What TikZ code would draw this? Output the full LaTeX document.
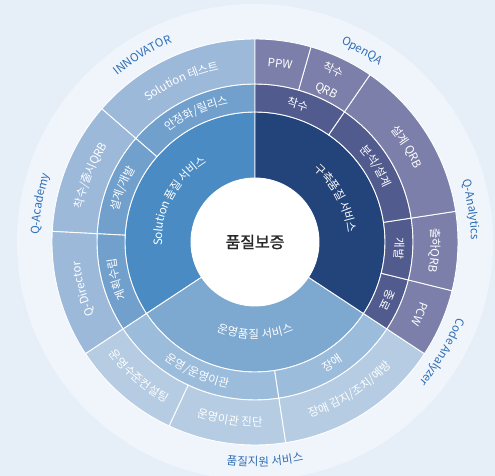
\documentclass[tikz,border=0pt]{standalone}
\usepackage{fontspec}
\setmainfont{Noto Sans CJK KR}
\newfontfamily\corefont[FakeBold=1.2]{Noto Sans CJK KR}
\usetikzlibrary{decorations.text}
\definecolor{bgc}{HTML}{E6EFF8}
\definecolor{bandc}{HTML}{F0F5FC}
\definecolor{solA}{HTML}{4A8BC3}
\definecolor{solB}{HTML}{72A0CD}
\definecolor{solC}{HTML}{9DB9DA}
\definecolor{conA}{HTML}{23447B}
\definecolor{conB}{HTML}{525B8D}
\definecolor{conC}{HTML}{7C7FA9}
\definecolor{opsA}{HTML}{7DA8CF}
\definecolor{opsB}{HTML}{9CBCDC}
\definecolor{opsC}{HTML}{B6CCE3}
\definecolor{outblue}{HTML}{2E6DB4}
\newcommand{\labw}{\fontsize{11.5}{13}\selectfont\color{white}}
\newcommand{\labo}{\fontsize{11.5}{13}\selectfont\color{outblue}}
\newcommand{\sunseg}[5]{%
  \fill[#5, draw=white, line width=0.9pt] ({#3}:#1pt) arc[start angle={#3}, end angle={#4}, radius=#1pt]
    -- ({#4}:#2pt) arc[start angle={#4}, end angle={#3}, radius=#2pt] -- cycle;}
\newcommand{\cwlab}[5]{%
  \path[decorate,decoration={text along path,text align=center,raise=-4pt,text={|#4|#5}}]
    ({#2+#3}:#1pt) arc[start angle={#2+#3}, end angle={#2-#3}, radius=#1pt];}
\newcommand{\ccwlab}[5]{%
  \path[decorate,decoration={text along path,text align=center,raise=-4pt,text={|#4|#5}}]
    ({#2-#3}:#1pt) arc[start angle={#2-#3}, end angle={#2+#3}, radius=#1pt];}
\begin{document}
\begin{tikzpicture}[x=1pt,y=1pt]
\useasboundingbox (-255,-234) rectangle (240,242);
\fill[bgc] (-255,-234) rectangle (240,242);
\fill[bandc] (0,0) circle[radius=238pt];
% level 1
\sunseg{64}{130}{90}{213.4}{solA}
\sunseg{64}{130}{213.4}{326.6}{opsA}
\sunseg{64}{130}{-33.4}{90}{conA}
% level 2
\sunseg{130}{158}{90}{139}{solB}
\sunseg{130}{158}{139}{177}{solB}
\sunseg{130}{158}{177}{213.4}{solB}
\sunseg{130}{158}{213.4}{278.7}{opsB}
\sunseg{130}{158}{278.7}{326.6}{opsB}
\sunseg{130}{158}{-33.4}{-13.9}{conB}
\sunseg{130}{158}{-13.9}{8.7}{conB}
\sunseg{130}{158}{8.7}{55.5}{conB}
\sunseg{130}{158}{55.5}{90}{conB}
% level 3
\sunseg{158}{203}{90}{139}{solC}
\sunseg{158}{203}{139}{177}{solC}
\sunseg{158}{203}{177}{213.4}{solC}
\sunseg{158}{203}{213.4}{245}{opsC}
\sunseg{158}{203}{245}{278.7}{opsC}
\sunseg{158}{203}{278.7}{326.6}{opsC}
\sunseg{158}{203}{-33.4}{-13.9}{conC}
\sunseg{158}{203}{-13.9}{8.7}{conC}
\sunseg{158}{203}{8.7}{55.5}{conC}
\sunseg{158}{203}{55.5}{74}{conC}
\sunseg{158}{203}{74}{90}{conC}
% centre
\fill[white] (0,0) circle[radius=64pt];
\node[font=\corefont\fontsize{16}{19}\selectfont, text=black!85] (core) at (0,0) {품질보증};
% level 1 labels
\cwlab{97}{151.7}{60}{\labw}{Solution 품질 서비스}
\cwlab{97}{28.3}{60}{\labw}{구축품질 서비스}
\ccwlab{93}{270}{55}{\labw}{운영품질 서비스}
% level 2 labels
\cwlab{144}{114.5}{24}{\labw}{안정화/릴리스}
\cwlab{144}{158}{19}{\labw}{설계/개발}
\cwlab{144}{195.2}{18}{\labw}{계획수립}
\ccwlab{144}{246}{32}{\labw}{운영/운영이관}
\ccwlab{144}{302.6}{24}{\labw}{장애}
\cwlab{144}{-23.65}{9.7}{\labw}{종료}
\cwlab{144}{-2.6}{11}{\labw}{개발}
\cwlab{144}{32.1}{23}{\labw}{분석/설계}
\cwlab{144}{72.75}{17}{\labw}{착수}
% level 3 labels
\cwlab{180}{114.5}{24}{\labw}{Solution 테스트}
\cwlab{180}{158}{19}{\labw}{착수/출시QRB}
\cwlab{180}{195.2}{18}{\labw}{Q-Director}
\ccwlab{180}{229.2}{15.8}{\labw}{운영수준컨설팅}
\ccwlab{180}{261.9}{16.8}{\labw}{운영이관 진단}
\ccwlab{180}{302.6}{24}{\labw}{장애 감지/조치/예방}
\cwlab{180}{-23.65}{9.7}{\labw}{PCW}
\cwlab{180}{-2.6}{11}{\labw}{출하QRB}
\cwlab{180}{32.1}{23}{\labw}{설계 QRB}
\cwlab{189}{65.5}{9}{\labw}{착수}
\cwlab{168}{64.8}{9}{\labw}{QRB}
\cwlab{180}{82}{8}{\labw}{PPW}
% outer labels
\cwlab{220}{121}{25}{\labo}{INNOVATOR}
\cwlab{220}{60.7}{25}{\labo}{OpenQA}
\cwlab{220}{8.5}{25}{\labo}{Q-Analytics}
\cwlab{220}{-30.5}{25}{\labo}{Code Analyzer}
\cwlab{220}{170}{25}{\labo}{Q-Academy}
\ccwlab{220}{272.6}{25}{\labo}{품질지원 서비스}
\end{tikzpicture}
\end{document}
